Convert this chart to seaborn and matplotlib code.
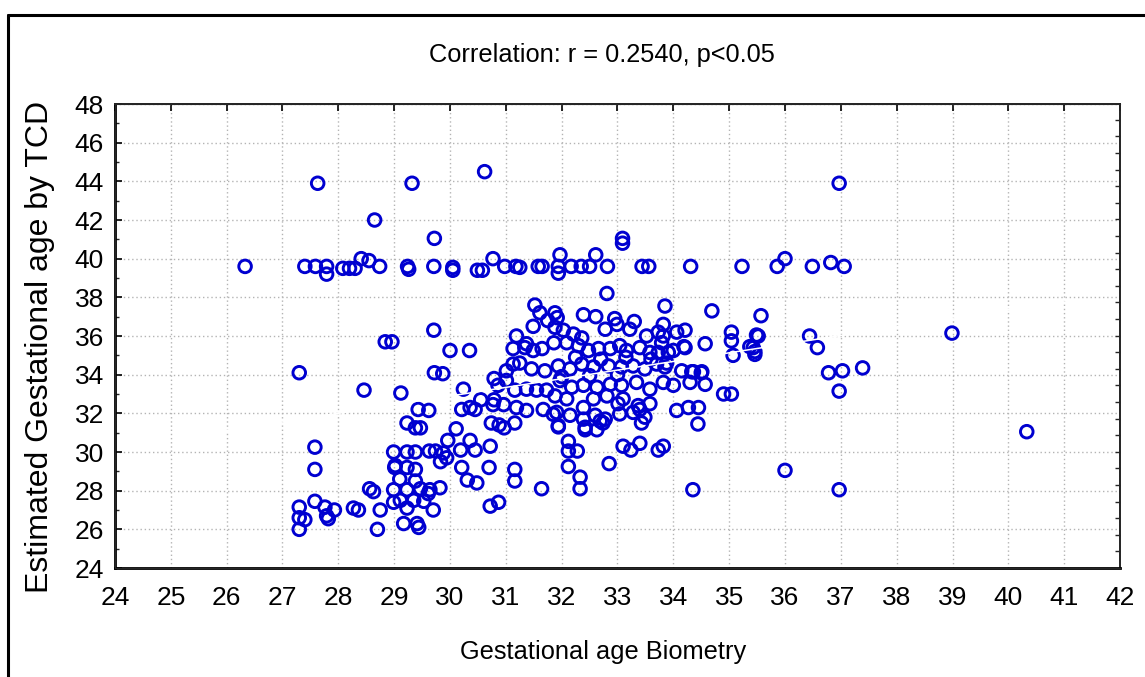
import numpy as np
import pandas as pd
import matplotlib
matplotlib.use("Agg")
import matplotlib.pyplot as plt
from matplotlib.lines import Line2D
from matplotlib.ticker import MultipleLocator
import seaborn as sns

# Gestational age by biometry (weeks) and the matching TCD estimate (weeks)
ga_biometry = [
    # band near 40 weeks and upper outliers
    26.33, 27.40, 27.59, 27.79, 27.79, 28.08, 28.20, 28.30, 28.41, 28.55, 28.74,
    29.24, 29.26, 29.71, 30.05, 30.05, 30.49, 30.58, 30.77, 30.98, 31.18, 31.25,
    31.58, 31.65, 31.94, 31.97, 31.94, 32.17, 32.35, 32.50, 32.61, 32.82, 33.44,
    33.56, 34.31, 35.23, 35.86, 36.00, 36.49, 36.82, 37.06,
    27.63, 29.32, 30.62, 36.97, 28.65, 29.72, 33.09, 33.09,
    # upper middle
    32.81, 31.52, 31.61, 31.88, 31.92, 32.39, 32.61, 33.85, 34.69, 35.57,
    28.84, 28.96, 29.71, 30.00, 30.35, 27.30, 29.72, 29.87, 28.46, 29.12,
    30.24, 30.79,
    # lower left cluster
    27.58, 27.58, 27.58, 27.30, 27.30, 27.40, 27.30, 27.76, 27.82, 27.79,
    27.93, 28.27, 28.36, 28.56, 28.63, 28.75, 28.70, 28.99, 29.01, 28.99, 28.99,
    # 29 - 31 weeks
    29.43, 29.62, 29.23, 29.38, 29.47, 30.11, 30.21, 30.36, 30.45, 30.55,
    30.79, 30.74, 30.88, 30.97, 31.16,
    29.23, 29.38, 29.63, 29.74, 29.96, 29.88, 29.83, 29.94, 30.19, 30.36,
    30.45, 30.72, 30.70,
    29.02, 29.23, 29.38, 29.10, 29.38, 30.21, 30.31, 30.48,
    29.23, 29.47, 29.64, 29.82, 29.61, 29.35, 29.53, 29.11, 29.70, 29.23,
    29.17, 29.41, 29.44, 30.72, 30.87,
    31.16, 31.16, 31.64,
    32.12, 32.12, 32.28, 32.12, 32.33, 32.33, 32.85,
    33.10, 33.24, 33.40, 33.73, 33.82, 34.35,
    31.94, 32.42, 32.63, 32.74, 33.43, 34.44,
    # dense centre
    31.01, 31.13, 31.34, 31.49, 31.65, 31.19, 31.37, 31.49, 31.88, 31.86,
    31.13, 31.25, 31.46, 31.70,
    31.01, 31.16, 31.37, 31.55, 31.73,
    30.77, 30.96, 31.19, 31.37, 31.67, 31.85, 30.86,
    32.03, 32.21, 32.36, 32.78, 32.99, 33.22, 33.52, 33.82, 33.82, 34.06, 34.21,
    35.04, 35.04, 35.07, 34.57,
    32.09, 32.30, 32.48, 32.66, 32.87, 33.04, 33.16, 33.40, 33.58, 33.73,
    33.91, 34.21,
    31.94, 32.15, 32.36, 32.57, 32.84, 33.07, 33.28, 33.49, 33.70, 33.85,
    34.15, 34.36, 34.50,
    34.00, 34.30, 34.57,
    31.97, 32.18, 32.39, 32.63, 32.87, 33.07, 33.34, 33.58, 33.82,
    34.90, 35.04,
    31.88, 32.09, 32.39, 32.57, 32.81, 33.01, 33.10, 33.37, 33.58,
    34.06, 34.27, 34.45,
    31.91, 32.15, 32.39, 32.60, 32.78, 33.04, 33.28, 33.49,
    31.94, 32.42, 32.69, 33.40,
    33.73, 33.79, 34.19, 35.49, 35.46, 35.37, 34.00, 33.88, 34.33, 34.51,
    32.25, 32.70, 33.15, 33.60, 32.00, 32.50, 33.00, 32.95, 33.30, 31.75,
    # right side
    35.52, 35.46, 35.43, 36.44, 36.58, 36.78, 37.03, 36.97, 37.39,
    38.99, 40.33, 36.00, 36.97,
]

ga_tcd = [
    39.6, 39.6, 39.6, 39.6, 39.2, 39.5, 39.5, 39.5, 40.0, 39.9, 39.6,
    39.6, 39.45, 39.6, 39.4, 39.55, 39.4, 39.4, 40.0, 39.6, 39.6, 39.55,
    39.6, 39.6, 39.6, 40.2, 39.25, 39.6, 39.6, 39.6, 40.2, 39.6, 39.6,
    39.6, 39.6, 39.6, 39.6, 40.0, 39.6, 39.8, 39.6,
    43.9, 43.9, 44.5, 43.9, 42.0, 41.05, 41.05, 40.8,
    38.2, 37.6, 37.2, 37.2, 36.95, 37.1, 37.0, 37.55, 37.3, 37.05,
    35.7, 35.7, 36.3, 35.25, 35.25, 34.1, 34.1, 34.05, 33.2, 33.05,
    33.25, 33.8,
    30.25, 29.1, 27.45, 27.15, 26.6, 26.5, 26.0, 27.15, 26.55, 26.7,
    27.0, 27.1, 27.0, 28.1, 27.95, 27.0, 26.0, 30.0, 29.2, 28.05, 27.4,
    32.2, 32.15, 31.5, 31.25, 31.25, 31.2, 32.2, 32.3, 32.2, 32.7,
    32.7, 31.5, 31.4, 31.25, 31.5,
    30.0, 30.0, 30.05, 30.05, 30.6, 29.95, 29.5, 29.7, 30.1, 30.6,
    30.1, 30.3, 29.2,
    29.3, 29.2, 29.1, 28.6, 28.5, 29.2, 28.55, 28.4,
    28.05, 28.1, 28.05, 28.15, 27.85, 27.5, 27.45, 27.5, 27.0, 27.1,
    26.3, 26.3, 26.1, 27.2, 27.4,
    29.1, 28.5, 28.1,
    30.55, 30.05, 30.05, 29.25, 28.7, 28.1, 29.4,
    30.3, 30.1, 30.45, 30.1, 30.3, 28.05,
    31.3, 31.15, 31.15, 31.5, 31.5, 31.45,
    34.2, 35.35, 35.4, 35.25, 35.35, 36.0, 35.6, 36.5, 36.45, 35.65,
    34.55, 34.6, 34.3, 34.2,
    33.7, 33.2, 33.25, 33.2, 33.2,
    32.45, 32.45, 32.3, 32.15, 32.2, 31.95, 33.45,
    36.3, 36.1, 35.9, 36.35, 36.6, 36.35, 36.0, 36.6, 36.0, 36.2, 36.3,
    36.2, 35.75, 35.0, 35.6,
    35.65, 35.5, 35.25, 35.35, 35.35, 35.5, 35.25, 35.4, 35.15, 35.15,
    35.15, 35.4,
    34.45, 34.3, 34.55, 34.4, 34.45, 34.4, 34.45, 34.3, 34.55, 34.4,
    34.2, 34.15, 34.1,
    33.45, 33.6, 33.5,
    33.7, 33.35, 33.45, 33.35, 33.5, 33.45, 33.6, 33.25, 33.6,
    33.0, 33.0,
    32.9, 32.75, 32.3, 32.75, 32.9, 32.5, 32.75, 32.4, 32.5,
    32.15, 32.3, 32.3,
    32.05, 31.9, 31.7, 31.9, 31.7, 31.97, 32.05, 31.8,
    31.36, 31.28, 31.6, 32.2,
    36.2, 35.65, 35.45, 36.05, 35.2, 35.45, 35.25, 34.6, 34.15, 34.15,
    34.9, 34.8, 34.9, 34.8, 33.9, 33.95, 34.0, 36.9, 36.75, 36.8,
    36.0, 35.05, 35.4, 36.0, 35.4, 34.1, 34.2, 33.15, 34.35,
    36.15, 31.05, 29.05, 28.05,
]

x_ticks = list(range(24, 43))
y_ticks = list(range(24, 49, 2))
title_text = "Correlation: r = 0.2540, p<0.05"
x_label = "Gestational age Biometry"
y_label = "Estimated Gestational age by TCD"

df = pd.DataFrame({"biometry": ga_biometry, "tcd": ga_tcd})

sns.set_style("white")
plt.rcParams["font.family"] = ["Liberation Sans", "DejaVu Sans"]
plt.rcParams["text.color"] = "black"

W, H = 1145, 677
fig = plt.figure(figsize=(W / 100, H / 100), dpi=100)
ax = fig.add_axes([115 / W, 1 - 568 / H, (1120 - 115) / W, (568 - 104) / H])

blue = "#0000d0"
sns.scatterplot(data=df, x="biometry", y="tcd", ax=ax, marker="o", s=82,
                linewidth=2.1, zorder=3, legend=False)
pts = ax.collections[-1]
pts.set_facecolor("none")
pts.set_edgecolor(blue)

# least-squares fit, drawn thin and light over the markers
sns.regplot(data=df, x="biometry", y="tcd", ax=ax, scatter=False, ci=None,
            truncate=False,
            line_kws=dict(color="white", lw=1.1, zorder=4))

ax.set_xlim(24, 42)
ax.set_ylim(24, 48)
ax.set_xticks(x_ticks)
ax.set_yticks(y_ticks)
ax.xaxis.set_minor_locator(MultipleLocator(0.25))
ax.yaxis.set_minor_locator(MultipleLocator(1))
ax.tick_params(axis="both", which="major", direction="in", length=5, width=1.2,
               labelsize=19, colors="black")
ax.tick_params(axis="both", which="minor", direction="in", length=3, width=1)
ax.tick_params(axis="x", which="both", top=True, pad=13)
ax.tick_params(axis="x", which="minor", top=False)
ax.tick_params(axis="y", which="major", pad=8)

ax.grid(True, which="major", color="#b4b4b4", linestyle=(0, (1, 2)), lw=1)
for side in ["left", "bottom"]:
    ax.spines[side].set_linewidth(2)
    ax.spines[side].set_color("black")
for side in ["top", "right"]:
    ax.spines[side].set_linewidth(1.4)
    ax.spines[side].set_color("#222222")

ax.set_xlabel("")
ax.set_ylabel("")

# secondary tick scale on the right edge
ax2 = ax.twinx()
ax2.set_ylim(0, 464 / 16.6)
ax2.yaxis.set_major_locator(MultipleLocator(1))
ax2.tick_params(axis="y", direction="in", length=3.5, width=1, labelright=False)
ax2.spines["right"].set_visible(False)
ax2.grid(False)

fig.text(602 / W, 1 - 55 / H, title_text, ha="center", va="center",
         fontsize=18.3, color="black")
fig.text(603 / W, 1 - 652 / H, x_label, ha="center", va="center",
         fontsize=18.3, color="black")
fig.text(40 / W, 1 - 347 / H, y_label, ha="center", va="center",
         fontsize=23, rotation=90, color="black")

# outer frame lines
fig.add_artist(Line2D([8 / W, 1], [1 - 15 / H, 1 - 15 / H], color="black", lw=2.2,
                      transform=fig.transFigure))
fig.add_artist(Line2D([8 / W, 8 / W], [0, 1 - 15 / H], color="black", lw=2.2,
                      transform=fig.transFigure))

fig.savefig("out.png", dpi=100)
